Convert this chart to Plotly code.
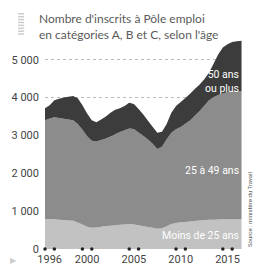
import plotly.graph_objects as go

years = [1996.0, 1996.5, 1997.0, 1997.5, 1998.0, 1998.5, 1999.0, 1999.5, 2000.0, 2000.5,
         2001.0, 2001.5, 2002.0, 2002.5, 2003.0, 2003.5, 2004.0, 2004.5, 2005.0, 2005.5,
         2006.0, 2006.5, 2007.0, 2007.5, 2008.0, 2008.5, 2009.0, 2009.5, 2010.0, 2010.5,
         2011.0, 2011.5, 2012.0, 2012.5, 2013.0, 2013.5, 2014.0, 2014.5, 2015.0, 2015.5,
         2016.0, 2016.5, 2017.0]

moins_25 = [790, 790, 785, 775, 765, 755, 745, 700, 650, 590,
            560, 565, 590, 605, 615, 625, 640, 650, 660, 650,
            625, 600, 580, 560, 535, 545, 600, 660, 690, 705,
            715, 725, 740, 750, 760, 770, 775, 780, 785, 787,
            787, 785, 785]

age_25_49 = [2610, 2660, 2695, 2685, 2675, 2665, 2655, 2600, 2500, 2390,
             2300, 2275, 2290, 2315, 2355, 2405, 2450, 2490, 2520, 2520,
             2455, 2390, 2310, 2220, 2105, 2155, 2300, 2410, 2470, 2515,
             2595, 2670, 2780, 2890, 3020, 3150, 3235, 3290, 3325, 3363,
             3378, 3380, 3380]

age_50_plus = [318, 350, 450, 510, 560, 600, 640, 680, 650, 600,
               540, 510, 540, 580, 630, 650, 630, 640, 680, 660,
               620, 560, 500, 450, 430, 400, 400, 530, 620, 660,
               680, 705, 705, 700, 700, 730, 880, 1070, 1210, 1260,
               1300, 1325, 1335]

y_ticks = [0, 1000, 2000, 3000, 4000, 5000]
y_tick_labels = ["0", "1 000", "2 000", "3 000", "4 000", "5 000"]
x_tick_vals = [1996.5, 2000.5, 2005.5, 2010.5, 2015.5]
x_tick_labels = ["1996", "2000", "2005", "2010", "2015"]
marker_years = [1996, 1997, 2000, 2001, 2005, 2006, 2010, 2011, 2015, 2016]

NARROW = "Liberation Sans Narrow, Roboto, sans-serif"

fig = go.Figure()
fig.add_trace(go.Scatter(x=years, y=moins_25, stackgroup="a", mode="none",
                         fillcolor="#c2c2c2", name="Moins de 25 ans"))
fig.add_trace(go.Scatter(x=years, y=age_25_49, stackgroup="a", mode="none",
                         fillcolor="#8c8c8c", name="25 à 49 ans"))
fig.add_trace(go.Scatter(x=years, y=age_50_plus, stackgroup="a", mode="none",
                         fillcolor="#3c3c3c", name="50 ans ou plus"))
fig.add_trace(go.Scatter(x=marker_years, y=[0] * len(marker_years), mode="markers",
                         marker=dict(color="#222222", size=3.5), cliponaxis=False,
                         hoverinfo="skip"))

fig.update_layout(
    width=260, height=278,
    margin=dict(l=44, r=18, t=37, b=22),
    paper_bgcolor="white", plot_bgcolor="white",
    showlegend=False,
    xaxis=dict(range=[1996, 2017.05], showgrid=False, zeroline=False, showline=False,
               tickvals=x_tick_vals, ticktext=x_tick_labels, ticks="",
               ticklabelstandoff=2,
               tickfont=dict(family=NARROW, size=11, color="#444444")),
    yaxis=dict(range=[0, 5600], tickvals=y_ticks, ticktext=y_tick_labels, ticks="",
               showgrid=True, gridcolor="#bbbbbb", griddash="dot", gridwidth=1,
               zeroline=False, showline=False, ticklabelstandoff=5,
               tickfont=dict(family=NARROW, size=11, color="#444444")),
)

fig.add_annotation(xref="paper", yref="paper", x=-0.04, y=1.13,
                   xanchor="left", yanchor="top", align="left", showarrow=False,
                   text="Nombre d'inscrits à Pôle emploi<br>en catégories A, B et C, selon l'âge",
                   font=dict(family="Lato, sans-serif", size=12, color="#5a5a5a"))

# stripe icon next to the title
for i in range(8):
    yy = 13 + i * 3
    fig.add_shape(type="line", xref="paper", yref="paper",
                  x0=(17 - 44) / 198, x1=(23 - 44) / 198,
                  y0=(278 - 22 - yy) / 219, y1=(278 - 22 - yy) / 219,
                  line=dict(color="#cccccc", width=1.5))

fig.add_annotation(x=2016.9, y=4420, xanchor="right", yanchor="middle", showarrow=False,
                   text="50 ans<br>ou plus", align="right",
                   font=dict(family=NARROW, size=10.5, color="white"))
fig.add_annotation(x=2016.9, y=2070, xanchor="right", yanchor="middle", showarrow=False,
                   text="25 à 49 ans", align="right",
                   font=dict(family=NARROW, size=10.5, color="white"))
fig.add_annotation(x=2016.9, y=360, xanchor="right", yanchor="middle", showarrow=False,
                   text="Moins de 25 ans", align="right",
                   font=dict(family=NARROW, size=10.5, color="white"))

fig.add_annotation(xref="paper", yref="paper", x=1.01, y=0.0,
                   xanchor="left", yanchor="bottom", showarrow=False, textangle=-90,
                   text="Source : ministère du Travail",
                   font=dict(family=NARROW, size=6, color="#555555"))

fig.add_annotation(xref="paper", yref="paper", x=(12 - 44) / 198, y=-0.055,
                   xanchor="center", yanchor="middle", showarrow=False, text="▶",
                   font=dict(family="DejaVu Sans", size=8, color="#cccccc"))

fig.write_html("out.html")
